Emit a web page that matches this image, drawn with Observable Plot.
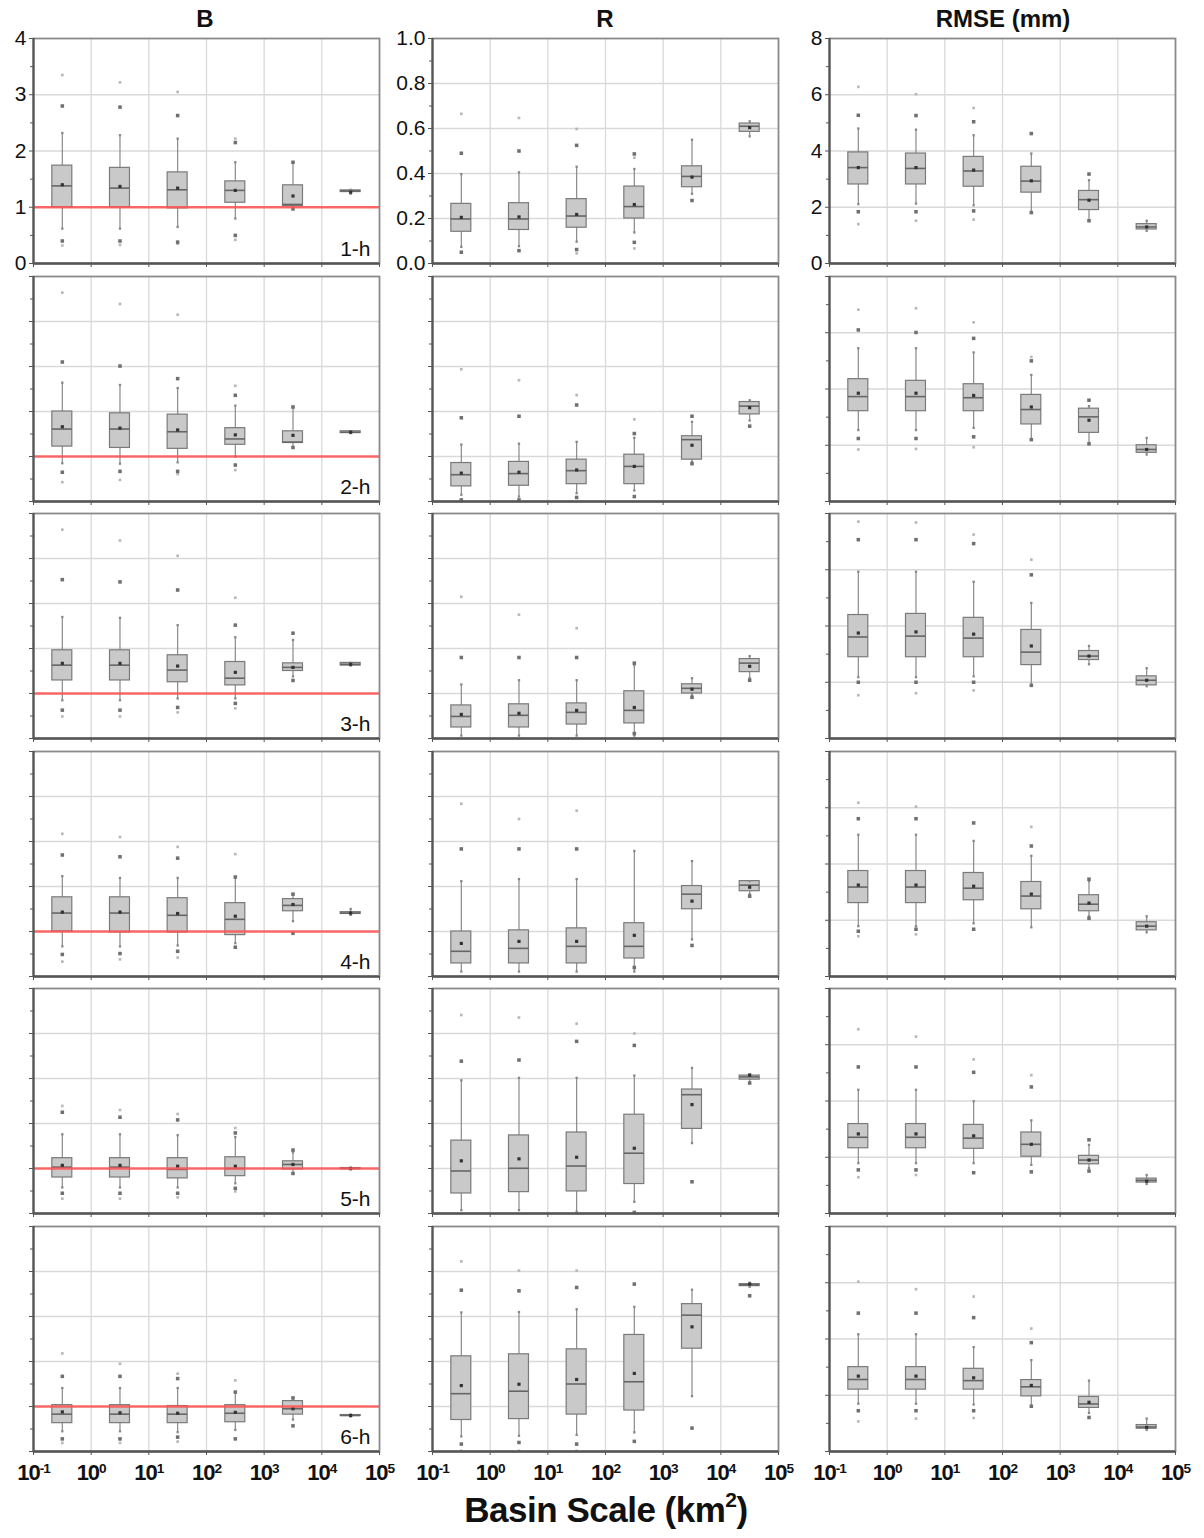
<!DOCTYPE html>
<html><head><meta charset="utf-8">
<script src="https://cdn.jsdelivr.net/npm/d3@7"></script>
<script src="https://cdn.jsdelivr.net/npm/@observablehq/plot@0.6"></script>
<style>
body{margin:0;background:#fff;font-family:"Liberation Sans",Arial,sans-serif;}
#wrap{position:relative;width:1204px;height:1538px;background:#fff;overflow:hidden;}
.hdr{position:absolute;font-weight:bold;font-size:24px;transform:translateX(-50%);white-space:nowrap;color:#111;}
.xt{position:absolute;font-weight:bold;font-size:35px;transform:translateX(-50%);white-space:nowrap;color:#111;letter-spacing:-0.5px;}
#wrap svg{position:absolute;}
</style></head><body><div id="wrap"></div>
<script>
// ---------- categories / ticks ----------
const basinScale = [0.316, 3.16, 31.6, 316, 3162, 31623]; // km², box centres
const xDecades = [0.1, 1, 10, 100, 1000, 10000, 100000];
const xTickBase = "10";
const xTickExp = ["-1", "0", "1", "2", "3", "4", "5"];
const hours = ["1-h", "2-h", "3-h", "4-h", "5-h", "6-h"];
const metricTitles = ["B", "R", "RMSE (mm)"];

const bMajorRow1 = [0, 1, 2, 3, 4];
const bMajor = [0, 1, 2, 3, 4, 5];
const bMinor = [0.5, 1.5, 2.5, 3.5, 4.5];
const rMajor = [0, 0.2, 0.4, 0.6, 0.8, 1.0];
const rMinor = [0.1, 0.3, 0.5, 0.7, 0.9];
const mMajor = [0, 2, 4, 6, 8];
const mMinor = [1, 3, 5, 7];

// ---------- B ----------
const B_q1 = [
 [1.00,1.00,0.98,1.08,1.02,1.27],
 [1.22,1.19,1.17,1.26,1.30,1.52],
 [1.29,1.29,1.25,1.18,1.50,1.62],
 [1.00,0.98,0.98,0.92,1.45,1.39],
 [0.80,0.80,0.78,0.83,0.98,0.99],
 [0.63,0.63,0.63,0.65,0.82,0.79]];
const B_med = [
 [1.38,1.34,1.31,1.30,1.05,1.29],
 [1.61,1.61,1.55,1.39,1.32,1.54],
 [1.63,1.63,1.52,1.34,1.58,1.65],
 [1.41,1.41,1.36,1.27,1.58,1.41],
 [1.03,1.03,0.98,1.00,1.09,1.00],
 [0.83,0.83,0.83,0.85,0.95,0.80]];
const B_q3 = [
 [1.74,1.70,1.62,1.46,1.39,1.30],
 [2.00,1.96,1.93,1.63,1.56,1.56],
 [1.96,1.96,1.85,1.70,1.67,1.68],
 [1.76,1.76,1.74,1.63,1.72,1.43],
 [1.23,1.23,1.23,1.25,1.16,1.01],
 [1.03,1.03,1.01,1.03,1.12,0.81]];
const B_mean = [
 [1.40,1.37,1.34,1.30,1.20,1.27],
 [1.66,1.63,1.59,1.48,1.47,1.54],
 [1.67,1.67,1.61,1.47,1.58,1.65],
 [1.43,1.43,1.40,1.34,1.60,1.41],
 [1.07,1.07,1.05,1.05,1.09,1.00],
 [0.88,0.86,0.85,0.87,0.95,0.80]];
const B_wlo = [
 [0.62,0.62,0.65,0.80,0.98,1.24],
 [0.85,0.84,0.87,1.00,1.20,1.52],
 [0.85,0.85,0.89,0.89,1.38,1.62],
 [0.67,0.67,0.69,0.74,1.23,1.37],
 [0.58,0.58,0.58,0.67,0.89,0.98],
 [0.45,0.45,0.43,0.48,0.71,0.78]];
const B_whi = [
 [2.32,2.28,2.22,1.80,1.80,1.31],
 [2.64,2.59,2.52,2.13,2.10,1.56],
 [2.70,2.68,2.52,2.25,2.19,1.68],
 [2.23,2.19,2.19,2.21,1.83,1.50],
 [1.76,1.76,1.74,1.70,1.36,1.02],
 [1.41,1.41,1.41,1.32,1.19,0.82]];
const B_darkLo = [
 [0.40,0.40,0.38,0.50,0.97,null],
 [0.65,0.67,0.67,0.81,1.20,null],
 [0.63,0.63,0.69,0.78,1.29,null],
 [0.49,0.51,0.56,0.65,0.96,null],
 [0.45,0.45,0.45,0.56,0.89,null],
 [0.28,0.28,0.32,0.28,0.57,null]];
const B_darkHi = [
 [2.80,2.78,2.63,2.15,1.80,null],
 [3.10,3.01,2.73,2.36,2.10,null],
 [3.53,3.48,3.30,2.52,2.34,null],
 [2.70,2.66,2.63,2.21,1.83,null],
 [2.25,2.14,2.08,1.79,1.41,null],
 [1.67,1.67,1.62,1.32,1.19,null]];
const B_lightLo = [
 [0.32,0.33,0.35,0.42,null,null],
 [0.43,0.48,0.61,0.70,null,null],
 [0.49,0.49,0.58,0.67,null,null],
 [0.33,0.38,0.42,0.65,null,null],
 [0.33,0.33,0.36,0.49,null,null],
 [0.19,0.19,0.22,null,null,null]];
const B_lightHi = [
 [3.35,3.22,3.05,2.22,null,null],
 [4.64,4.39,4.15,2.57,null,null],
 [4.64,4.40,4.06,3.13,null,null],
 [3.17,3.10,2.88,2.72,null,null],
 [2.39,2.30,2.21,1.90,null,null],
 [2.18,1.95,1.73,1.58,null,null]];

// ---------- R ----------
const R_q1 = [
 [0.141,0.149,0.159,0.200,0.339,0.585],
 [0.067,0.070,0.077,0.077,0.186,0.387],
 [0.049,0.049,0.062,0.067,0.200,0.295],
 [0.058,0.058,0.058,0.080,0.299,0.379],
 [0.089,0.095,0.098,0.131,0.376,0.595],
 [0.140,0.144,0.164,0.182,0.457,0.735]];
const R_med = [
 [0.198,0.198,0.211,0.253,0.387,0.610],
 [0.119,0.124,0.137,0.156,0.275,0.424],
 [0.098,0.103,0.116,0.125,0.223,0.335],
 [0.112,0.125,0.134,0.134,0.366,0.406],
 [0.189,0.201,0.211,0.268,0.528,0.607],
 [0.257,0.268,0.300,0.310,0.606,0.741]];
const R_q3 = [
 [0.265,0.268,0.286,0.342,0.432,0.622],
 [0.171,0.176,0.186,0.208,0.290,0.442],
 [0.147,0.152,0.156,0.210,0.241,0.353],
 [0.200,0.205,0.214,0.237,0.402,0.424],
 [0.324,0.347,0.360,0.439,0.551,0.613],
 [0.423,0.432,0.454,0.518,0.655,0.744]];
const R_mean = [
 [0.205,0.207,0.218,0.262,0.384,0.604],
 [0.126,0.130,0.140,0.156,0.250,0.417],
 [0.107,0.112,0.125,0.138,0.219,0.321],
 [0.147,0.156,0.156,0.183,0.335,0.397],
 [0.234,0.243,0.250,0.290,0.484,0.615],
 [0.293,0.299,0.320,0.347,0.554,0.744]];
const R_wlo = [
 [0.074,0.077,0.097,0.138,0.310,0.565],
 [0.030,0.022,0.037,0.049,0.176,0.360],
 [0.013,0.013,0.013,0.013,0.192,0.268],
 [0.022,0.022,0.022,0.022,0.165,0.366],
 [0.015,0.015,0.008,0.052,0.313,0.580],
 [0.067,0.070,0.074,0.085,0.246,0.732]];
const R_whi = [
 [0.397,0.405,0.430,0.420,0.550,0.632],
 [0.253,0.257,0.265,0.283,0.354,0.450],
 [0.240,0.259,0.259,0.326,0.268,0.366],
 [0.424,0.433,0.433,0.558,0.513,0.424],
 [0.592,0.603,0.603,0.613,0.647,0.618],
 [0.618,0.620,0.632,0.643,0.719,0.750]];
const R_darkLo = [
 [0.050,0.057,0.062,0.094,0.280,null],
 [0.007,0.007,0.018,0.022,0.168,0.335],
 [null,null,null,0.022,0.183,0.259],
 [null,null,null,0.040,0.138,0.357],
 [null,null,null,0.005,0.141,0.580],
 [0.033,0.040,0.033,0.045,0.104,0.692]];
const R_darkHi = [
 [0.490,0.500,0.525,0.487,null,null],
 [0.372,0.379,0.429,0.302,0.379,null],
 [0.360,0.360,0.360,0.335,null,null],
 [0.567,0.567,0.567,null,null,null],
 [0.677,0.682,0.765,0.747,null,null],
 [0.717,0.714,0.729,0.744,null,null]];
const R_lightLo = [
 [null,null,0.045,0.067,null,null],
 [null,null,null,null,null,null],
 [null,null,null,null,null,null],
 [null,null,null,null,null,null],
 [null,null,null,null,null,null],
 [0.003,0.003,0.003,null,null,null]];
const R_lightHi = [
 [0.665,0.647,0.598,0.470,null,null],
 [0.588,0.539,0.473,0.365,null,null],
 [0.630,0.550,0.490,null,null,null],
 [0.768,0.700,0.737,null,null,null],
 [0.882,0.871,0.844,0.800,null,null],
 [0.845,0.804,0.804,null,null,null]];

// ---------- RMSE ----------
const M_q1 = [
 [2.81,2.81,2.73,2.52,1.90,1.21],
 [3.21,3.21,3.21,2.74,2.44,1.73],
 [2.89,2.89,2.89,2.61,2.79,1.89],
 [2.61,2.61,2.71,2.39,2.32,1.64],
 [2.32,2.32,2.30,2.02,1.75,1.10],
 [2.20,2.20,2.20,1.96,1.55,0.81]];
const M_med = [
 [3.41,3.38,3.29,2.93,2.27,1.30],
 [3.73,3.73,3.69,3.27,3.01,1.85],
 [3.61,3.64,3.57,3.07,2.93,2.07],
 [3.18,3.18,3.14,2.86,2.57,1.79],
 [2.71,2.71,2.68,2.46,1.90,1.18],
 [2.56,2.56,2.52,2.30,1.69,0.87]];
const M_q3 = [
 [3.95,3.91,3.79,3.44,2.58,1.40],
 [4.35,4.29,4.17,3.79,3.30,2.00],
 [4.39,4.43,4.29,3.86,3.11,2.21],
 [3.75,3.75,3.68,3.36,2.89,1.93],
 [3.18,3.18,3.15,2.88,2.05,1.24],
 [3.00,3.00,2.94,2.54,1.94,0.94]];
const M_mean = [
 [3.41,3.41,3.32,2.94,2.25,1.30],
 [3.85,3.85,3.77,3.36,2.89,1.85],
 [3.75,3.79,3.71,3.29,2.93,2.07],
 [3.25,3.25,3.21,2.93,2.61,1.79],
 [2.83,2.83,2.76,2.46,1.90,1.15],
 [2.68,2.68,2.62,2.35,1.75,0.86]];
const M_wlo = [
 [2.11,2.13,2.07,1.81,1.54,1.16],
 [2.54,2.54,2.62,2.20,2.08,1.67],
 [2.18,2.18,2.21,1.89,2.64,1.86],
 [1.79,1.79,1.89,1.75,2.14,1.57],
 [1.79,1.79,1.79,1.73,1.61,1.05],
 [1.70,1.70,1.67,1.61,1.37,0.77]];
const M_whi = [
 [4.80,4.76,4.56,3.91,2.96,1.52],
 [5.45,5.45,5.30,4.50,3.39,2.26],
 [5.93,5.93,5.57,4.82,3.29,2.50],
 [5.04,5.04,4.82,4.29,3.39,2.14],
 [4.40,4.40,3.99,3.31,2.44,1.37],
 [4.17,4.17,3.71,3.25,2.52,1.17]];
const M_darkLo = [
 [1.84,1.84,1.87,1.81,1.52,null],
 [2.24,2.24,2.30,2.20,2.05,null],
 [2.00,2.00,2.00,1.89,null,null],
 [1.61,1.68,1.68,null,2.07,null],
 [1.55,1.55,1.45,1.48,1.51,null],
 [1.45,1.45,1.45,1.61,1.21,null]];
const M_darkHi = [
 [5.27,5.26,5.04,4.62,3.18,null],
 [6.10,6.01,5.80,5.00,3.60,null],
 [7.07,7.07,6.93,5.82,null,null],
 [5.61,5.61,5.46,4.64,3.46,null],
 [5.21,5.21,5.02,4.50,2.62,null],
 [4.92,4.92,4.76,3.87,null,null]];
const M_lightLo = [
 [1.40,1.52,1.56,null,null,null],
 [1.85,1.87,1.93,null,null,null],
 [1.54,1.61,1.71,null,null,null],
 [1.43,1.50,null,null,null,null],
 [1.29,1.37,null,null,null,null],
 [1.07,1.17,1.19,null,null,null]];
const M_lightHi = [
 [6.28,6.02,5.53,null,null,null],
 [6.82,6.87,6.37,5.14,null,null],
 [7.71,7.68,7.25,6.36,null,null],
 [6.18,6.04,null,5.32,null,null],
 [6.55,6.29,5.48,4.92,null,null],
 [6.04,5.77,5.51,4.37,null,null]];

// ---------- layout ----------
const colLeft = [33, 432, 829];
const rowTop = [38, 275.6, 513.2, 750.8, 988.4, 1226];
const frameW = 346, frameH = 225;
const mL = 46, mR = 26, mT = 6, mB = 44;
const boxHalf = 1.49; // multiplicative half-width on the log axis

const metrics = [
  {q1:B_q1, med:B_med, q3:B_q3, mean:B_mean, wlo:B_wlo, whi:B_whi,
   dLo:B_darkLo, dHi:B_darkHi, lLo:B_lightLo, lHi:B_lightHi,
   domain: r => r === 0 ? [0, 4] : [0, 5],
   major: r => r === 0 ? bMajorRow1 : bMajor,
   minor: r => r === 0 ? bMinor.slice(0, 4) : bMinor,
   fmt: d3.format("d"), refLine: true},
  {q1:R_q1, med:R_med, q3:R_q3, mean:R_mean, wlo:R_wlo, whi:R_whi,
   dLo:R_darkLo, dHi:R_darkHi, lLo:R_lightLo, lHi:R_lightHi,
   domain: r => [0, 1], major: r => rMajor, minor: r => rMinor,
   fmt: d3.format(".1f"), refLine: false},
  {q1:M_q1, med:M_med, q3:M_q3, mean:M_mean, wlo:M_wlo, whi:M_whi,
   dLo:M_darkLo, dHi:M_darkHi, lLo:M_lightLo, lHi:M_lightHi,
   domain: r => [0, 8], major: r => mMajor, minor: r => mMinor,
   fmt: d3.format("d"), refLine: false}
];

const wrap = document.getElementById("wrap");
const SVGNS = "http://www.w3.org/2000/svg";

function pts(arrs, r) {
  const out = [];
  basinScale.forEach((x, i) => arrs.forEach(a => { const v = a[r][i]; if (v != null) out.push({x, y: v}); }));
  return out;
}

metrics.forEach((m, c) => {
  for (let r = 0; r < 6; r++) {
    const dom = m.domain(r);
    const boxes = basinScale.map((x, i) => ({
      x, q1: m.q1[r][i], med: m.med[r][i], q3: m.q3[r][i], mean: m.mean[r][i],
      wlo: m.wlo[r][i], whi: m.whi[r][i]
    }));
    const dark = pts([m.dLo, m.dHi], r);
    const light = pts([m.lLo, m.lHi], r);
    const ends = pts([m.wlo, m.whi], r);
    const major = m.major(r);
    const inner = major.filter(v => v > dom[0] && v < dom[1]);
    const last = r === 5;
    const marks = [
      Plot.ruleX(xDecades.slice(1, -1), {stroke: "#d9d9d9", strokeWidth: 1.3}),
      Plot.ruleY(inner, {stroke: "#d9d9d9", strokeWidth: 1.3}),
      Plot.ruleX(boxes, {x: "x", y1: "wlo", y2: "whi", stroke: "#8a8a8a", strokeWidth: 1.2}),
      Plot.rect(boxes, {x1: d => d.x / boxHalf, x2: d => d.x * boxHalf, y1: "q1", y2: "q3",
        fill: "#c9c9c9", stroke: "#7a7a7a", strokeWidth: 1.2}),
      Plot.ruleY(boxes, {y: "med", x1: d => d.x / boxHalf, x2: d => d.x * boxHalf, stroke: "#666", strokeWidth: 1.6}),
      Plot.dot(ends, {x: "x", y: "y", r: 1.3, fill: "#888", symbol: "square"}),
      Plot.dot(light, {x: "x", y: "y", r: 1.5, fill: "#b8b8b8", symbol: "square"}),
      Plot.dot(dark, {x: "x", y: "y", r: 2, fill: "#707070", symbol: "square"}),
      Plot.dot(boxes, {x: "x", y: "mean", r: 1.8, fill: "#333", symbol: "square"})
    ];
    if (m.refLine) marks.push(Plot.ruleY([1], {stroke: "#ff5050", strokeOpacity: 0.85, strokeWidth: 2.6}));
    marks.push(
      Plot.frame({stroke: "#8a8a8a", strokeWidth: 1.8}),
      Plot.ruleY([dom[0]], {stroke: "#555", strokeWidth: 2.6}),
      Plot.ruleX([xDecades[0]], {stroke: "#555", strokeWidth: 2.2}),
      Plot.axisY({ticks: m.minor(r), tickSize: 3, tickFormat: () => "", label: null, stroke: "#555"}),
      Plot.axisY({ticks: major, tickSize: 4, tickPadding: 3, fontSize: 21, label: null, stroke: "#555",
        tickFormat: r === 0 ? m.fmt : () => "", fill: "#111"}),
      Plot.axisX({ticks: xDecades, tickSize: 4, tickPadding: 9, fontSize: 22, label: null, stroke: "#555", fill: "#111",
        tickFormat: last ? (d => xTickBase + "|" + xTickExp[xDecades.indexOf(d)]) : () => ""})
    );
    if (c === 0) marks.push(Plot.text([hours[r]], {frameAnchor: "bottom-right", dx: -9, dy: -8,
      fontSize: 21, fill: "#111", text: d => d}));
    const svg = Plot.plot({
      width: frameW + mL + mR, height: frameH + mT + mB,
      marginLeft: mL, marginRight: mR, marginTop: mT, marginBottom: mB,
      style: {background: "transparent", overflow: "visible", fontFamily: "Liberation Sans, Arial, sans-serif"},
      x: {type: "log", domain: [xDecades[0], xDecades[xDecades.length - 1]]},
      y: {domain: dom},
      marks
    });
    if (last) {
      svg.querySelectorAll("text").forEach(t => {
        const s = t.textContent, k = s.indexOf("|");
        if (k < 0) return;
        t.textContent = s.slice(0, k);
        const ts = document.createElementNS(SVGNS, "tspan");
        ts.setAttribute("dy", "-0.5em");
        ts.setAttribute("font-size", "0.62em");
        ts.textContent = s.slice(k + 1);
        t.appendChild(ts);
        t.setAttribute("font-weight", "bold");
        t.setAttribute("letter-spacing", "-1");
      });
    }
    svg.style.left = (colLeft[c] - mL) + "px";
    svg.style.top = (rowTop[r] - mT) + "px";
    wrap.appendChild(svg);
  }
});

// column headers
const hdrX = [205, 605, 1003];
metricTitles.forEach((t, i) => {
  const d = document.createElement("div");
  d.className = "hdr"; d.textContent = t;
  d.style.left = hdrX[i] + "px"; d.style.top = "5px";
  wrap.appendChild(d);
});
const xt = document.createElement("div");
xt.className = "xt";
xt.innerHTML = "Basin Scale (km<sup style='font-size:21px;vertical-align:15px;line-height:0'>2</sup>)";
xt.style.left = "606px"; xt.style.top = "1490px";
wrap.appendChild(xt);
</script></body></html>
